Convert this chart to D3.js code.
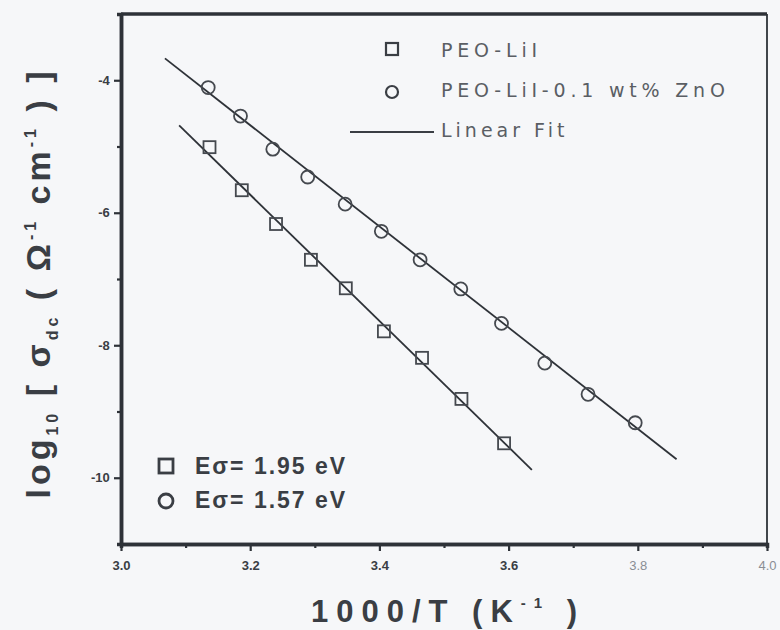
<!DOCTYPE html>
<html>
<head>
<meta charset="utf-8">
<script src="https://cdn.jsdelivr.net/npm/d3@7"></script>
<style>
  body { margin: 0; background: #f6f7f9; }
  svg { display: block; }
</style>
</head>
<body>
<div id="chart"></div>
<script>
// values
var xPeoLiI = [3.137, 3.187, 3.240, 3.294, 3.348, 3.407, 3.466, 3.527, 3.593];
var yPeoLiI = [-5.01, -5.66, -6.17, -6.71, -7.14, -7.79, -8.19, -8.81, -9.48];

var xZnO = [3.135, 3.185, 3.235, 3.289, 3.347, 3.403, 3.463, 3.526, 3.589, 3.656, 3.723, 3.796];
var yZnO = [-4.11, -4.54, -5.04, -5.46, -5.87, -6.28, -6.71, -7.15, -7.67, -8.27, -8.74, -9.17];

// linear fit end points
var fitPeoLiI = [[3.090, -4.68], [3.636, -9.88]];
var fitZnO = [[3.068, -3.67], [3.860, -9.72]];

var xTicks = [3.0, 3.2, 3.4, 3.6, 3.8, 4.0];
var xMinor = [3.1, 3.3, 3.5, 3.7, 3.9];
var yTicks = [-4, -6, -8, -10];
var yMinor = [-3, -5, -7, -9];

var legendNames = ["PEO-LiI", "PEO-LiI-0.1 wt% ZnO", "Linear Fit"];
var energyLabels = ["1.95 eV", "1.57 eV"];

var svgWidth = 780, svgHeight = 630;
var margin = { top: 14, right: 13, bottom: 86, left: 121 };
var width = svgWidth - margin.left - margin.right;
var height = svgHeight - margin.top - margin.bottom;

var svg = d3.select("#chart").append("svg")
  .attr("width", svgWidth)
  .attr("height", svgHeight);

var g = svg.append("g")
  .attr("transform", `translate(${margin.left}, ${margin.top})`);

var xScale = d3.scaleLinear().domain([3.0, 4.0]).range([0, width]);
var yScale = d3.scaleLinear().domain([-11, -3]).range([height, 0]);

var ink = "#2e3238";

// frame
g.append("line").attr("x1", 0).attr("x2", width).attr("y1", 0).attr("y2", 0)
  .attr("stroke", ink).attr("stroke-width", 3.5);
g.append("line").attr("x1", width).attr("x2", width).attr("y1", 0).attr("y2", height)
  .attr("stroke", ink).attr("stroke-width", 1.8);

// axes
var bottomAxis = d3.axisBottom(xScale).tickValues(xTicks).tickSize(7).tickSizeOuter(0)
  .tickFormat(d3.format(".1f"));
var bottomMinor = d3.axisBottom(xScale).tickValues(xMinor).tickSize(4).tickFormat("");
var leftAxis = d3.axisLeft(yScale).tickValues(yTicks).tickSize(7).tickSizeOuter(0)
  .tickFormat(d => d);
var leftMinor = d3.axisLeft(yScale).tickValues(yMinor).tickSize(4).tickFormat("");

var xg = g.append("g").attr("transform", `translate(0, ${height})`).call(bottomAxis);
g.append("g").attr("transform", `translate(0, ${height})`).call(bottomMinor);
var yg = g.append("g").call(leftAxis);
g.append("g").call(leftMinor);

g.selectAll(".domain").attr("stroke", ink).attr("stroke-width", 3.5);
g.selectAll(".tick line").attr("stroke", ink).attr("stroke-width", 2.2);
g.selectAll(".tick text")
  .attr("fill", "#3a3e44")
  .style("font-family", "'Liberation Sans', Arial, sans-serif")
  .style("font-weight", "bold")
  .style("font-size", "13px");
xg.selectAll(".tick text").attr("dy", "1.2em");
xg.selectAll(".tick text").filter(d => d >= 3.8).attr("fill", "#8a8e94").style("font-weight", "normal");
yg.selectAll(".tick text").attr("dx", "-0.1em");

// fit lines
var line = d3.line().x(d => xScale(d[0])).y(d => yScale(d[1]));
g.append("path").datum(fitZnO).attr("d", line)
  .attr("fill", "none").attr("stroke", ink).attr("stroke-width", 1.8);
g.append("path").datum(fitPeoLiI).attr("d", line)
  .attr("fill", "none").attr("stroke", ink).attr("stroke-width", 1.8);

// data points
var sq = 12;
g.selectAll("rect.pt")
  .data(d3.zip(xPeoLiI, yPeoLiI))
  .enter()
  .append("rect")
  .attr("class", "pt")
  .attr("x", d => xScale(d[0]) - sq / 2)
  .attr("y", d => yScale(d[1]) - sq / 2)
  .attr("width", sq).attr("height", sq)
  .attr("fill", "none")
  .attr("stroke", "#45494f")
  .attr("stroke-width", 1.8);

g.selectAll("circle.pt")
  .data(d3.zip(xZnO, yZnO))
  .enter()
  .append("circle")
  .attr("class", "pt")
  .attr("cx", d => xScale(d[0]))
  .attr("cy", d => yScale(d[1]))
  .attr("r", 6.5)
  .attr("fill", "none")
  .attr("stroke", "#45494f")
  .attr("stroke-width", 1.8);

// top right legend
var legend = svg.append("g")
  .style("font-family", "'DejaVu Sans', 'Liberation Sans', sans-serif")
  .style("font-size", "19px")
  .attr("fill", "#5a5e64");

legend.append("rect").attr("x", 386).attr("y", 43).attr("width", 12).attr("height", 12)
  .attr("fill", "none").attr("stroke", "#3a3e44").attr("stroke-width", 2.2);
legend.append("circle").attr("cx", 392).attr("cy", 92).attr("r", 6)
  .attr("fill", "none").attr("stroke", "#3a3e44").attr("stroke-width", 2.2);
legend.append("line").attr("x1", 350).attr("x2", 434).attr("y1", 132).attr("y2", 132)
  .attr("stroke", "#3a3e44").attr("stroke-width", 1.8);

legend.selectAll("text")
  .data(legendNames)
  .enter()
  .append("text")
  .attr("x", 441)
  .attr("y", (d, i) => 57 + i * 40)
  .style("letter-spacing", (d, i) => i == 2 ? "4px" : "4.8px")
  .text(d => d);

// activation energies
var eg = svg.append("g")
  .style("font-family", "'Liberation Sans', Arial, sans-serif")
  .style("font-weight", "bold")
  .style("font-size", "23px")
  .attr("fill", "#3a3e44");

eg.append("rect").attr("x", 159).attr("y", 459).attr("width", 14).attr("height", 14)
  .attr("fill", "none").attr("stroke", "#3a3e44").attr("stroke-width", 2.8);
eg.append("circle").attr("cx", 166).attr("cy", 501).attr("r", 7)
  .attr("fill", "none").attr("stroke", "#3a3e44").attr("stroke-width", 2.8);

eg.selectAll("text")
  .data(energyLabels)
  .enter()
  .append("text")
  .attr("x", 195)
  .attr("y", (d, i) => 474 + i * 34)
  .style("letter-spacing", "2px")
  .text(d => "Eσ= " + d);

// axis titles
var xt = svg.append("text")
  .attr("x", 448).attr("y", 622)
  .attr("text-anchor", "middle")
  .attr("fill", "#3a3e44")
  .style("font-family", "'Liberation Sans', Arial, sans-serif")
  .style("font-weight", "bold")
  .style("font-size", "31px")
  .style("letter-spacing", "8px");
xt.append("tspan").text("1000/T (K");
xt.append("tspan").attr("dy", -14).style("font-size", "15px").text("-1");
xt.append("tspan").attr("dy", 14).text(" )");

var yt = svg.append("text")
  .attr("transform", "translate(50, 283) rotate(-90)")
  .attr("text-anchor", "middle")
  .attr("fill", "#3a3e44")
  .style("font-family", "'Liberation Sans', Arial, sans-serif")
  .style("font-weight", "bold")
  .style("font-size", "34px")
  .style("letter-spacing", "4px");
yt.append("tspan").text("log");
yt.append("tspan").attr("dy", 8).style("font-size", "16px").text("10");
yt.append("tspan").attr("dy", -8).text(" [ σ");
yt.append("tspan").attr("dy", 8).style("font-size", "16px").text("dc");
yt.append("tspan").attr("dy", -8).text(" ( Ω");
yt.append("tspan").attr("dy", -14).style("font-size", "16px").text("-1");
yt.append("tspan").attr("dy", 14).text(" cm");
yt.append("tspan").attr("dy", -14).style("font-size", "16px").text("-1");
yt.append("tspan").attr("dy", 14).text(" ) ]");
</script>
</body>
</html>
